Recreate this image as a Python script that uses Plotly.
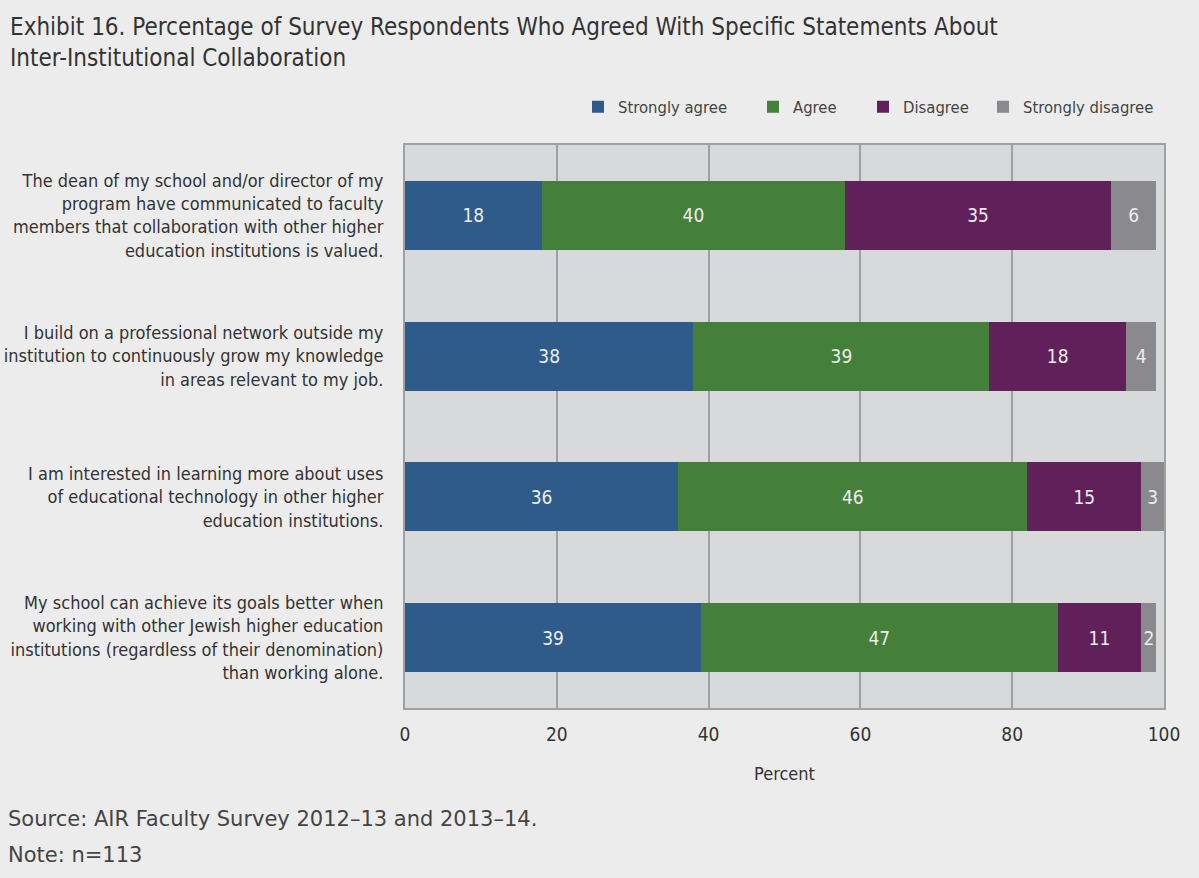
import plotly.graph_objects as go

categories = [
    "The dean of my school and/or director of my<br>program have communicated to faculty<br>members that collaboration with other higher<br>education institutions is valued.",
    "I build on a professional network outside my<br>institution to continuously grow my knowledge<br>in areas relevant to my job.",
    "I am interested in learning more about uses<br>of educational technology in other higher<br>education institutions.",
    "My school can achieve its goals better when<br>working with other Jewish higher education<br>institutions (regardless of their denomination)<br>than working alone.",
]
series_names = ["Strongly agree", "Agree", "Disagree", "Strongly disagree"]
strongly_agree = [18, 38, 36, 39]
agree = [40, 39, 46, 47]
disagree = [35, 18, 15, 11]
strongly_disagree = [6, 4, 3, 2]
x_ticks = [0, 20, 40, 60, 80, 100]

colors = ["#2f5b8a", "#45803a", "#60215a", "#8a8a8e"]
FONT = "Liberation Sans Narrow, DejaVu Sans Condensed, Roboto Condensed, Arial Narrow, sans-serif"
NOTE_FONT = "DejaVu Sans, Verdana, sans-serif"

L, R, T, B = 405, 35, 145, 170
PW, PH = 1199 - L - R, 878 - T - B

def px_x(x):
    return (x - L) / PW

def px_y(y):
    return (878 - B - y) / PH

legend_left_px = [578, 753, 863, 983]
legend_ids = ["legend", "legend2", "legend3", "legend4"]

fig = go.Figure()
for name, vals, c, lid in zip(series_names, [strongly_agree, agree, disagree, strongly_disagree], colors, legend_ids):
    fig.add_trace(go.Bar(
        y=categories, x=vals, name=name, orientation="h", legend=lid, showlegend=True,
        marker=dict(color=c, line=dict(width=0)),
        text=[str(v) for v in vals], textposition="inside", insidetextanchor="middle",
        textfont=dict(color="#ececec", size=19, family=FONT),
        hoverinfo="skip",
    ))

legend_common = dict(
    orientation="h", xanchor="left", y=px_y(107), yanchor="middle",
    font=dict(size=16.5, color="#444444", family=FONT),
    bgcolor="rgba(0,0,0,0)",
)
legend_layout = {lid: dict(legend_common, x=px_x(xp)) for lid, xp in zip(legend_ids, legend_left_px)}

fig.update_layout(
    barmode="stack",
    bargap=0.51,
    showlegend=True,
    width=1199, height=878,
    paper_bgcolor="#ececec", plot_bgcolor="#d8d9db",
    margin=dict(l=L, r=R, t=T, b=B, autoexpand=False),
    font=dict(family=FONT, color="#333333"),
    uniformtext=dict(minsize=19, mode="show"),
    **legend_layout,
    xaxis=dict(
        range=[0, 100], tickvals=x_ticks, ticktext=[str(t) for t in x_ticks],
        showgrid=True, gridcolor="#a0a0a0", gridwidth=1.5,
        showline=True, linecolor="#a0a0a0", linewidth=2, mirror=True,
        zeroline=False, ticks="", ticklabelstandoff=8, automargin=False,
        tickfont=dict(size=19, color="#333333", family=FONT),
        title=dict(text="Percent", font=dict(size=18, color="#333333", family=FONT), standoff=24),
    ),
    yaxis=dict(
        autorange="reversed", showgrid=False,
        showline=True, linecolor="#a0a0a0", linewidth=2, mirror=True,
        ticks="", ticklabelstandoff=16, automargin=False,
        tickfont=dict(size=18, color="#333333", family=FONT),
    ),
    annotations=[
        dict(text="Exhibit 16. Percentage of Survey Respondents Who Agreed With Specific Statements About<br>Inter-Institutional Collaboration",
             xref="paper", yref="paper", x=px_x(8), y=px_y(11), xanchor="left", yanchor="top",
             align="left", showarrow=False,
             font=dict(size=24, color="#333333", family=FONT)),
        dict(text="Source: AIR Faculty Survey 2012–13 and 2013–14.", xref="paper", yref="paper",
             x=px_x(8), y=px_y(819), xanchor="left", yanchor="middle", showarrow=False, xshift=-2,
             font=dict(size=21, color="#444444", family=NOTE_FONT)),
        dict(text="Note: n=113", xref="paper", yref="paper",
             x=px_x(8), y=px_y(855), xanchor="left", yanchor="middle", showarrow=False, xshift=-2,
             font=dict(size=21, color="#444444", family=NOTE_FONT)),
    ],
)

fig.write_html("out.html", config={"displayModeBar": False},
               post_script="document.body.style.margin='0';")
